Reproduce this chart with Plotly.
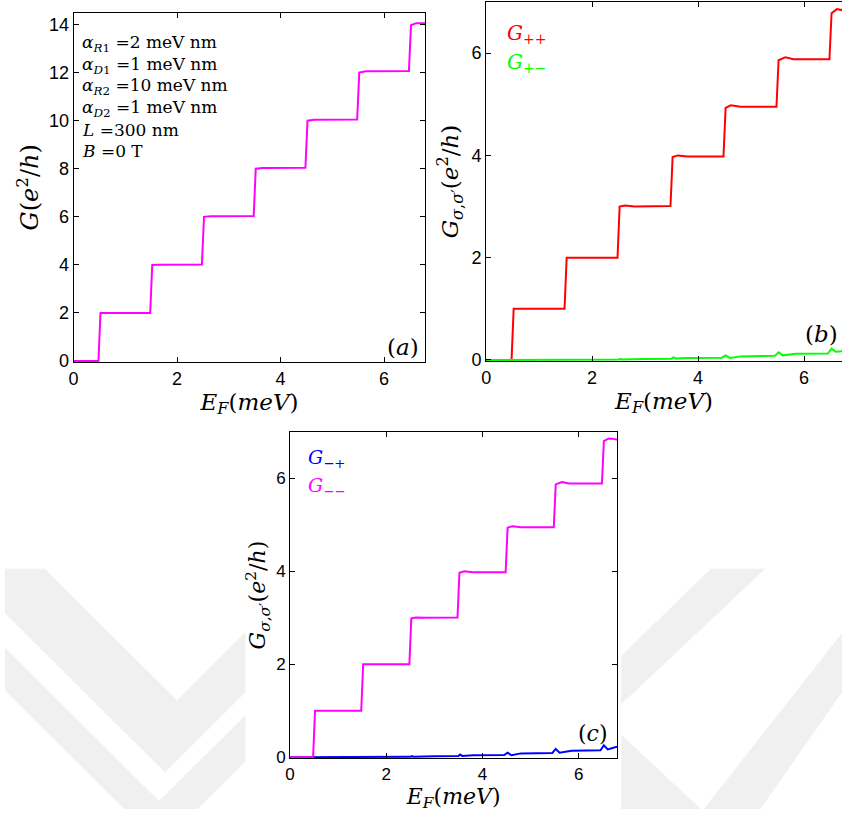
import plotly.graph_objects as go

W, H = 842, 818

# ---------------- data ----------------
# Panel (a): total conductance G (e^2/h) vs E_F (meV)
E_tot = [0, 0.48, 0.52, 0.62, 1.48, 1.52, 1.62, 2.48, 2.52, 2.65, 3.48, 3.52, 3.65,
         4.48, 4.52, 4.65, 5.48, 5.52, 5.65, 6.48, 6.52, 6.62, 6.8]
G_tot = [0, 0, 2.0, 2.0, 2.0, 4.0, 4.01, 4.02, 6.0, 6.02, 6.03, 8.0, 8.03,
         8.04, 10.0, 10.04, 10.05, 12.0, 12.06, 12.07, 13.97, 14.06, 14.05]

# Panel (b): spin-resolved G_{++} and G_{+-}
E_pp = [0, 0.48, 0.52, 1.48, 1.52, 2.48, 2.52, 2.62, 2.8, 3.48, 3.52, 3.62, 3.8,
        4.48, 4.52, 4.62, 4.8, 5.48, 5.52, 5.65, 5.8, 6.48, 6.52, 6.62, 6.72, 6.8]
G_pp = [0, 0, 1.0, 1.0, 2.0, 2.0, 3.0, 3.02, 3.0, 3.01, 3.97, 4.0, 3.98,
        3.98, 4.93, 4.98, 4.95, 4.95, 5.86, 5.92, 5.88, 5.88, 6.78, 6.86, 6.84, 6.8]
E_pm = [0, 1.5, 1.55, 2.0, 2.5, 2.53, 2.57, 3.0, 3.5, 3.53, 3.58, 3.8, 4.0, 4.45,
        4.52, 4.6, 4.8, 5.0, 5.45, 5.52, 5.6, 5.85, 6.0, 6.45, 6.52, 6.6, 6.7, 6.8]
G_pm = [0, 0, 0.004, 0.005, 0.008, 0.02, 0.01, 0.02, 0.025, 0.05, 0.028, 0.04, 0.045, 0.045,
        0.09, 0.04, 0.07, 0.077, 0.08, 0.15, 0.09, 0.12, 0.12, 0.125, 0.22, 0.16, 0.17, 0.2]

# Panel (c): spin-resolved G_{-+} and G_{--}
E_mp = [0, 1.5, 1.55, 2.0, 2.5, 2.53, 2.57, 3.0, 3.5, 3.53, 3.58, 3.8, 4.0, 4.45,
        4.52, 4.6, 4.8, 5.0, 5.45, 5.52, 5.6, 5.85, 6.0, 6.45, 6.52, 6.6, 6.7, 6.8]
G_mp = [0, 0, 0.005, 0.006, 0.01, 0.025, 0.012, 0.022, 0.03, 0.06, 0.03, 0.045, 0.05, 0.05,
        0.1, 0.045, 0.085, 0.09, 0.095, 0.18, 0.1, 0.14, 0.145, 0.15, 0.26, 0.17, 0.2, 0.23]
E_mm = [0, 0.48, 0.52, 1.48, 1.52, 2.48, 2.52, 2.62, 2.8, 3.48, 3.52, 3.62, 3.8,
        4.48, 4.52, 4.62, 4.8, 5.48, 5.52, 5.65, 5.8, 6.48, 6.52, 6.62, 6.72, 6.8]
G_mm = [0, 0, 1.0, 1.0, 2.0, 2.0, 2.99, 3.01, 3.0, 3.01, 3.97, 4.0, 3.98,
        3.98, 4.94, 4.97, 4.95, 4.95, 5.87, 5.92, 5.89, 5.89, 6.8, 6.86, 6.85, 6.83]

x_ticks = [0, 2, 4, 6]
y_ticks_a = [0, 2, 4, 6, 8, 10, 12, 14]
y_ticks_bc = [0, 2, 4, 6]

params = ["<i>α</i><sub><i>R</i>1</sub> =2 meV nm",
          "<i>α</i><sub><i>D</i>1</sub> =1 meV nm",
          "<i>α</i><sub><i>R</i>2</sub> =10 meV nm",
          "<i>α</i><sub><i>D</i>2</sub> =1 meV nm",
          "<i>L</i> =300 nm",
          "<i>B</i> =0 T"]

# ---------------- helpers ----------------
def fx(px):
    return px / W

def fy(py):
    return 1 - py / H

SANS = "Liberation Sans, Arial, sans-serif"
SERIF = "DejaVu Serif, Liberation Serif, serif"
MAGENTA, RED, GREEN, BLUE = "#ff00ff", "#ff0000", "#00ff00", "#0000ff"

fig = go.Figure()
fig.add_trace(go.Scatter(x=E_tot, y=G_tot, mode="lines", line=dict(color=MAGENTA, width=2),
                         xaxis="x", yaxis="y", showlegend=False, name="G"))
fig.add_trace(go.Scatter(x=E_pp, y=G_pp, mode="lines", line=dict(color=RED, width=2),
                         xaxis="x2", yaxis="y2", showlegend=False, name="G++"))
fig.add_trace(go.Scatter(x=E_pm, y=G_pm, mode="lines", line=dict(color=GREEN, width=2),
                         xaxis="x2", yaxis="y2", showlegend=False, name="G+-"))
fig.add_trace(go.Scatter(x=E_mp, y=G_mp, mode="lines", line=dict(color=BLUE, width=2),
                         xaxis="x3", yaxis="y3", showlegend=False, name="G-+"))
fig.add_trace(go.Scatter(x=E_mm, y=G_mm, mode="lines", line=dict(color=MAGENTA, width=2),
                         xaxis="x3", yaxis="y3", showlegend=False, name="G--"))

def xax(domain, rng, size, title_size, standoff, anchor):
    return dict(domain=domain, range=rng, tickvals=x_ticks, ticks="inside", ticklen=5,
                tickcolor="black", showline=True, linecolor="black", linewidth=1,
                mirror="ticks", showgrid=False, zeroline=False, anchor=anchor,
                tickfont=dict(family=SANS, size=size, color="black"),
                title=dict(text="<i>E</i><sub><i>F</i></sub>(<i>meV</i>)",
                           font=dict(family=SERIF, size=title_size, color="black"),
                           standoff=standoff))

def yax(domain, rng, ticks, size, title_text, title_size, standoff, anchor, mirror="ticks"):
    return dict(domain=domain, range=rng, tickvals=ticks, ticks="inside", ticklen=5,
                tickcolor="black", showline=True, linecolor="black", linewidth=1,
                mirror=mirror, showgrid=False, zeroline=False, anchor=anchor,
                tickfont=dict(family=SANS, size=size, color="black"),
                title=dict(text=title_text, font=dict(family=SERIF, size=title_size, color="black"),
                           standoff=standoff))

ytitle_a = "<i>G</i>(<i>e</i><sup>2</sup>/<i>h</i>)"
ytitle_s = "<i>G</i><sub><i>σ</i>,<i>σ</i>′</sub>(<i>e</i><sup>2</sup>/<i>h</i>)"

fig.update_layout(
    width=W, height=H, margin=dict(l=0, r=0, t=0, b=0),
    paper_bgcolor="white", plot_bgcolor="rgba(0,0,0,0)",
    xaxis=xax([fx(69), fx(423)], [0, 6.8], 18, 23, 2, "y"),
    yaxis=yax([fy(366), fy(12.7)], [-0.04, 14.5], y_ticks_a, 18, ytitle_a, 24, 3, "x"),
    xaxis2=xax([fx(484), 1.0], [0, 6.717], 18, 23, 2, "y2"),
    yaxis2=yax([fy(365), fy(2)], [-0.02, 7], y_ticks_bc, 18, ytitle_s, 23, 6, "x2", mirror=False),
    xaxis3=xax([fx(286.7), fx(616)], [0, 6.8], 17, 22, 1, "y3"),
    yaxis3=yax([fy(766.7), fy(436.7)], [-0.02, 7], y_ticks_bc, 17, ytitle_s, 22, 4, "x3"),
)

ann = []
for i, t in enumerate(params):
    ann.append(dict(text=t, x=fx(75), y=fy(44 + i * 21.8), xref="paper", yref="paper",
                    xanchor="left", yanchor="middle", showarrow=False,
                    font=dict(family=SERIF, size=17, color="black")))
ann += [
    dict(text="<i>G</i><sub>++</sub>", x=fx(503), y=fy(34), font=dict(family=SERIF, size=20, color=RED)),
    dict(text="<i>G</i><sub>+−</sub>", x=fx(503), y=fy(64), font=dict(family=SERIF, size=20, color=GREEN)),
    dict(text="<i>G</i><sub>−+</sub>", x=fx(303), y=fy(464), font=dict(family=SERIF, size=19, color=BLUE)),
    dict(text="<i>G</i><sub>−−</sub>", x=fx(303), y=fy(492), font=dict(family=SERIF, size=19, color=MAGENTA)),
]
for a in ann[-4:]:
    a.update(xref="paper", yref="paper", xanchor="left", yanchor="middle", showarrow=False)
for lbl, xr, yc, sz in [("a", 418, 351, 23), ("b", 840, 338, 23), ("c", 609, 742, 22)]:
    ann.append(dict(text=f"(<i>{lbl}</i>)", x=fx(xr), y=fy(yc), xref="paper", yref="paper",
                    xanchor="right", yanchor="middle", showarrow=False,
                    font=dict(family=SERIF, size=sz, color="black")))
fig.update_layout(annotations=ann)

# faint background watermark (decorative)
WM = "#f0f0f0"
polys = [
    [(0, 575), (40, 575), (173, 708), (242, 639), (242, 700), (161, 781), (0, 620)],
    [(0, 655), (155, 810), (242, 723), (242, 770), (194, 818), (120, 818), (0, 698)],
    [(710, 575), (765, 575), (620, 712), (620, 663)],
    [(620, 743), (700, 818), (620, 818)],
    [(842, 640), (842, 700), (760, 818), (703, 818)],
]
shapes = []
for p in polys:
    path = "M " + " L ".join(f"{fx(x):.5f},{fy(y):.5f}" for x, y in p) + " Z"
    shapes.append(dict(type="path", path=path, xref="paper", yref="paper",
                       fillcolor=WM, line=dict(width=0), layer="below"))
fig.update_layout(shapes=shapes)

fig.write_html("out.html")
